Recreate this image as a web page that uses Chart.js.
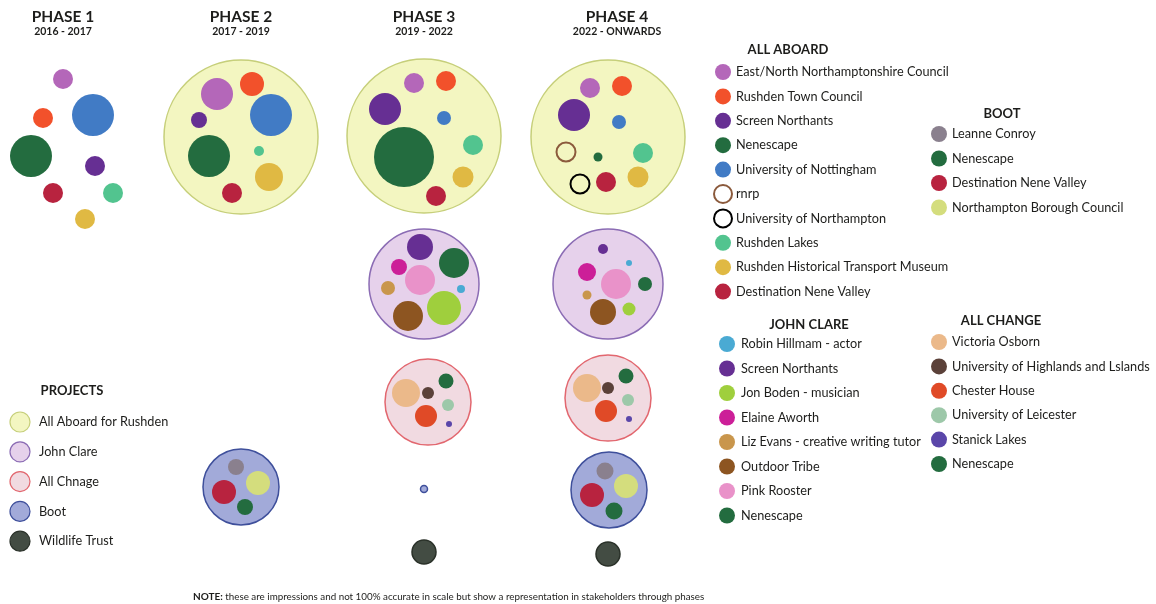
<!DOCTYPE html>
<html>
<head>
<meta charset="utf-8">
<script src="https://cdn.jsdelivr.net/npm/chart.js@4"></script>
<style>
  html, body { margin: 0; padding: 0; background: #fff; }
  #wrap { width: 1156px; height: 604px; }
</style>
</head>
<body>
<div id="wrap"><canvas id="chart" width="1156" height="604"></canvas></div>
<script>
// Phases (columns)
const phases = ["PHASE 1", "PHASE 2", "PHASE 3", "PHASE 4"];
const phaseYears = ["2016 - 2017", "2017 - 2019", "2019 - 2022", "2022 - ONWARDS"];
const phaseX = [63, 241, 424, 617];

// Projects
const projectNames = ["All Aboard for Rushden", "John Clare", "All Chnage", "Boot", "Wildlife Trust"];
const projectFill = ["#f3f6c1", "#e6d1eb", "#f1dae1", "#a2aad9", "#434c43"];
const projectLine = ["#c6cf7a", "#8b6cb4", "#e2676f", "#3e4f9b", "#2a3129"];
// [x, y, size, project]
const projectCircles = [
  [241, 137, 77, 0], [424, 136, 77, 0], [608, 137, 77, 0],
  [424, 284, 55, 1], [608, 284, 55, 1],
  [428, 402, 43, 2], [608, 398, 43, 2],
  [241, 487, 38, 3], [424, 489, 3.5, 3], [609, 490, 38, 3],
  [424, 552, 12, 4], [608, 554, 12, 4]
];

// All Aboard stakeholders
const aboardNames = ["East/North Northamptonshire Council", "Rushden Town Council", "Screen Northants", "Nenescape",
  "University of Nottingham", "rnrp", "University of Northampton", "Rushden Lakes",
  "Rushden Historical Transport Museum", "Destination Nene Valley"];
const aboardColors = ["#b467b9", "#f2512b", "#662f93", "#236c3f", "#417bc5", "#8b5a3c", "#000000", "#52c48f", "#e0b943", "#b8233f"];
const aboardHollow = [5, 6];
// [x, y, size, stakeholder]
const aboardBubbles = [
  [63, 79, 10, 0], [43, 118, 10, 1], [95, 166, 10, 2], [31, 156, 21, 3], [93, 115, 21, 4],
  [113, 193, 10, 7], [85, 219, 10, 8], [53, 193, 10, 9],
  [217, 94, 16, 0], [252, 84, 12, 1], [199, 120, 8, 2], [209, 156, 21, 3], [271, 115, 21, 4],
  [259, 151, 5, 7], [269, 177, 14, 8], [232, 193, 10, 9],
  [414, 83, 10, 0], [446, 81, 10, 1], [385, 109, 16, 2], [404, 157, 30, 3], [444, 118, 7, 4],
  [473, 145, 10, 7], [463, 177, 10.5, 8], [436, 196, 10, 9],
  [590, 88, 10, 0], [622, 86, 10, 1], [574, 115, 16, 2], [598, 157, 4.5, 3], [619, 122, 7, 4],
  [566, 152, 9.5, 5], [580, 184, 9.5, 6], [643, 153, 10, 7], [638, 177, 10.5, 8], [606, 182, 10, 9]
];

// Boot stakeholders
const bootNames = ["Leanne Conroy", "Nenescape", "Destination Nene Valley", "Northampton Borough Council"];
const bootColors = ["#8a808e", "#236c3f", "#b8233f", "#d4dd7d"];
const bootBubbles = [
  [236, 467, 8, 0], [245, 507, 8, 1], [224, 492, 12, 2], [258, 483, 12, 3],
  [605, 471, 8.5, 0], [614, 511, 8.5, 1], [592, 495, 12, 2], [626, 486, 12, 3]
];

// John Clare stakeholders
const clareNames = ["Robin Hillmam - actor", "Screen Northants", "Jon Boden - musician", "Elaine Aworth",
  "Liz Evans - creative writing tutor", "Outdoor Tribe", "Pink Rooster", "Nenescape"];
const clareColors = ["#4aaad3", "#662f93", "#9fcf3d", "#cc1f98", "#c9964c", "#8d5521", "#e992c9", "#236c3f"];
const clareBubbles = [
  [461, 289, 4, 0], [420, 247, 13, 1], [444, 308, 17, 2], [399, 267, 8, 3],
  [388, 288, 7, 4], [408, 316, 15, 5], [420, 280, 15, 6], [454, 263, 15, 7],
  [629, 263, 3, 0], [603, 249, 5, 1], [629, 309, 6.5, 2], [587, 272, 9, 3],
  [587, 295, 4.5, 4], [603, 312, 13, 5], [616, 284, 15, 6], [645, 284, 7, 7]
];

// All Change stakeholders
const changeNames = ["Victoria Osborn", "University of Highlands and Lslands", "Chester House",
  "University of Leicester", "Stanick Lakes", "Nenescape"];
const changeColors = ["#ebb98a", "#5b4139", "#e04a27", "#9dc8a9", "#5a46a9", "#236c3f"];
const changeBubbles = [
  [406, 393, 14, 0], [428, 393, 6, 1], [426, 416, 11, 2], [448, 405, 6, 3], [449, 424, 3, 4], [446, 381, 7.5, 5],
  [587, 388, 14, 0], [608, 388, 6, 1], [606, 411, 11, 2], [628, 400, 6, 3], [629, 419, 3, 4], [626, 376, 7.5, 5]
];

const noteText = "these are impressions and not 100% accurate in scale but show a representation in stakeholders through phases";

const FONT = "Lato, 'Open Sans', sans-serif";
const INK = "#1d1d1b";

// legend blocks (layout)
const legends = [
  { title: "ALL ABOARD", names: aboardNames, colors: aboardColors, hollow: aboardHollow, titleX: 788, titleY: 50, dotX: 723, textX: 736, y0: 72, step: 24.4 },
  { title: "BOOT", names: bootNames, colors: bootColors, hollow: [], titleX: 1002, titleY: 114, dotX: 939, textX: 952, y0: 134, step: 24.5 },
  { title: "JOHN CLARE", names: clareNames, colors: clareColors, hollow: [], titleX: 809, titleY: 325, dotX: 727, textX: 741, y0: 344, step: 24.5 },
  { title: "ALL CHANGE", names: changeNames, colors: changeColors, hollow: [], titleX: 1001, titleY: 321, dotX: 939, textX: 952, y0: 342, step: 24.4 }
];
const projLegend = { title: "PROJECTS", titleX: 72, titleY: 391, dotX: 20, textX: 39, y0: 422, step: 29.8 };

function stakeDataset(bubbles, colors, hollow) {
  return {
    data: bubbles.map(b => ({ x: b[0], y: b[1], r: b[2] })),
    backgroundColor: bubbles.map(b => hollow.includes(b[3]) ? "rgba(0,0,0,0)" : colors[b[3]]),
    borderColor: bubbles.map(b => colors[b[3]]),
    borderWidth: bubbles.map(b => hollow.includes(b[3]) ? 2 : 0),
    order: 1
  };
}

const datasets = [];
// project circles at the back
datasets.push({
  data: projectCircles.map(p => ({ x: p[0], y: p[1], r: p[2] })),
  backgroundColor: projectCircles.map(p => projectFill[p[3]]),
  borderColor: projectCircles.map(p => projectLine[p[3]]),
  borderWidth: 1.5,
  order: 5
});
datasets.push(stakeDataset(aboardBubbles, aboardColors, aboardHollow));
datasets.push(stakeDataset(bootBubbles, bootColors, []));
datasets.push(stakeDataset(clareBubbles, clareColors, []));
datasets.push(stakeDataset(changeBubbles, changeColors, []));

// legend swatches
legends.forEach(g => {
  datasets.push({
    data: g.names.map((n, i) => ({ x: g.dotX, y: g.y0 + i * g.step, r: g.hollow.includes(i) ? 9 : 8 })),
    backgroundColor: g.names.map((n, i) => g.hollow.includes(i) ? "#ffffff" : g.colors[i]),
    borderColor: g.colors,
    borderWidth: g.names.map((n, i) => g.hollow.includes(i) ? 2 : 0),
    order: 1
  });
});
datasets.push({
  data: projectNames.map((n, i) => ({ x: projLegend.dotX, y: projLegend.y0 + i * projLegend.step, r: 10 })),
  backgroundColor: projectFill,
  borderColor: projectLine,
  borderWidth: 1.2,
  order: 1
});

const textPlugin = {
  id: "texts",
  afterDatasetsDraw(chart) {
    const ctx = chart.ctx;
    const xs = chart.scales.x, ys = chart.scales.y;
    const px = v => xs.getPixelForValue(v), py = v => ys.getPixelForValue(v);
    ctx.save();
    ctx.fillStyle = INK;
    ctx.textBaseline = "middle";

    // phase headers
    ctx.textAlign = "center";
    phases.forEach((p, i) => {
      ctx.font = "bold 15.5px " + FONT;
      ctx.fillText(p, px(phaseX[i]), py(17));
      ctx.font = "bold 10.5px " + FONT;
      ctx.fillText(phaseYears[i], px(phaseX[i]), py(32));
    });

    // legend blocks
    legends.forEach(g => {
      ctx.textAlign = "center";
      ctx.font = "bold 13px " + FONT;
      ctx.fillText(g.title, px(g.titleX), py(g.titleY));
      ctx.textAlign = "left";
      ctx.font = "12.7px " + FONT;
      g.names.forEach((n, i) => ctx.fillText(n, px(g.textX), py(g.y0 + i * g.step)));
    });

    ctx.textAlign = "center";
    ctx.font = "bold 13px " + FONT;
    ctx.fillText(projLegend.title, px(projLegend.titleX), py(projLegend.titleY));
    ctx.textAlign = "left";
    ctx.font = "12.7px " + FONT;
    projectNames.forEach((n, i) => ctx.fillText(n, px(projLegend.textX), py(projLegend.y0 + i * projLegend.step)));

    // note
    ctx.font = "bold 10px " + FONT;
    ctx.fillText("NOTE:", px(193), py(597));
    const w = ctx.measureText("NOTE: ").width;
    ctx.font = "9.8px " + FONT;
    ctx.fillText(noteText, px(193) + w, py(597));
    ctx.restore();
  }
};

new Chart(document.getElementById("chart").getContext("2d"), {
  type: "bubble",
  data: { datasets: datasets },
  options: {
    responsive: false,
    animation: false,
    events: [],
    layout: { padding: 0, autoPadding: false },
    plugins: { legend: { display: false }, tooltip: { enabled: false } },
    scales: {
      x: { type: "linear", min: 0, max: 1156, display: false },
      y: { type: "linear", min: 0, max: 604, reverse: true, display: false }
    }
  },
  plugins: [textPlugin]
});
</script>
</body>
</html>
